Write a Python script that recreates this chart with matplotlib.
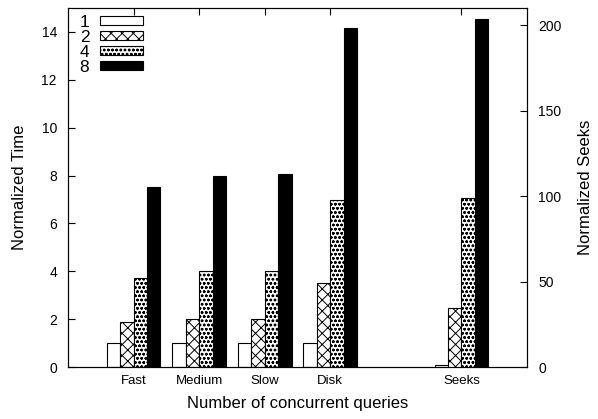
import numpy as np
import matplotlib.pyplot as plt
from matplotlib.patches import Patch

plt.rcParams['font.family'] = ['Liberation Sans', 'DejaVu Sans']
plt.rcParams['hatch.linewidth'] = 0.7

categories = ['Fast', 'Medium', 'Slow', 'Disk']
series = ['1', '2', '4', '8']
time_vals = {
    '1': [1.0, 1.0, 1.0, 1.0],
    '2': [1.9, 2.0, 2.02, 3.52],
    '4': [3.74, 4.0, 4.02, 6.98],
    '8': [7.52, 8.0, 8.05, 14.15],
}
seeks_vals = {'1': 1.0, '2': 34.5, '4': 99.0, '8': 203.5}

fills = {'1': 'white', '2': 'white', '4': 'white', '8': 'black'}
hatches = {'1': None, '2': 'xxx', '4': 'oooo', '8': None}

pos = np.array([1, 2, 3, 4])
seeks_pos = 6
w = 0.205
offs = [-1.5 * w, -0.5 * w, 0.5 * w, 1.5 * w]

fig = plt.figure(figsize=(5.98, 4.19), dpi=100)
ax = fig.add_axes([0.1137, 0.124, 0.7676, 0.857])
ax2 = ax.twinx()

for s, o in zip(series, offs):
    ax.bar(pos + o, time_vals[s], w, color=fills[s], edgecolor='black',
           hatch=hatches[s], linewidth=0.8)
    ax2.bar(seeks_pos + o, seeks_vals[s], w, color=fills[s], edgecolor='black',
            hatch=hatches[s], linewidth=0.8)

ax.set_xlim(0, 7)
ax.set_ylim(0, 15)
ax2.set_ylim(0, 210)
ax.set_xticks(list(pos) + [seeks_pos])
ax.set_xticklabels(categories + ['Seeks'], fontsize=9.5)
ax.set_yticks(range(0, 15, 2))
ax2.set_yticks(range(0, 201, 50))
ax.tick_params(axis='y', direction='in', labelsize=10, length=5, pad=8)
ax.tick_params(axis='x', direction='in', top=True, length=5, pad=6)
ax2.tick_params(axis='y', direction='in', labelsize=10, length=5, pad=8)
ax.set_ylabel('Normalized Time', fontsize=12, labelpad=10)
ax2.set_ylabel('Normalized Seeks', fontsize=12, labelpad=12)
ax.set_xlabel('Number of concurrent queries', fontsize=12, labelpad=6)

handles = [Patch(facecolor=fills[s], edgecolor='black', hatch=hatches[s],
                 linewidth=0.8, label=s) for s in series]
ax.legend(handles=handles, loc='upper left', frameon=False, fontsize=12.5,
          markerfirst=False, handlelength=2.5, handleheight=0.45,
          labelspacing=0.0, handletextpad=0.6, borderaxespad=0.0,
          bbox_to_anchor=(0.01, 1.0))

fig.savefig('out.png', dpi=100)
